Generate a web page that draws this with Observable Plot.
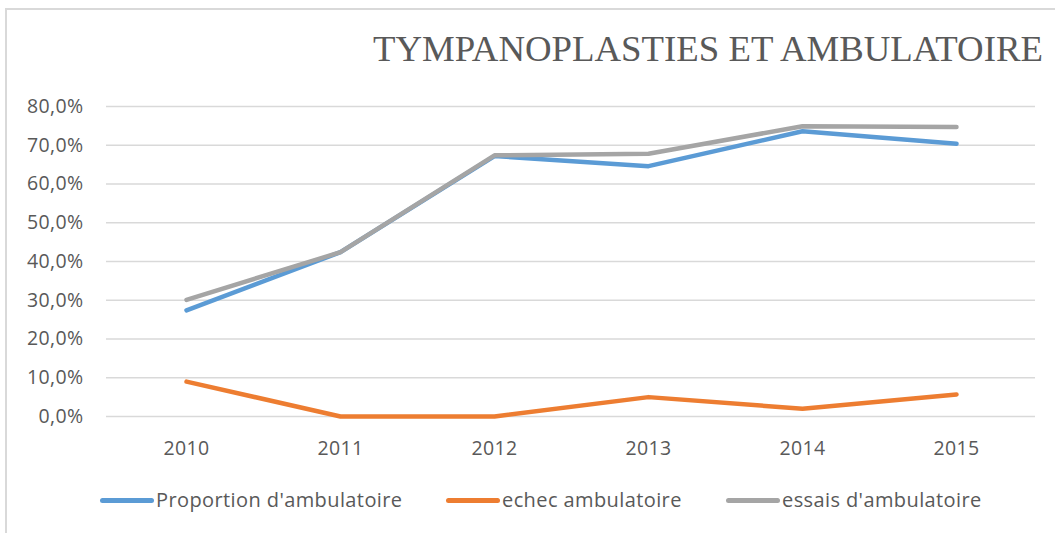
<!DOCTYPE html>
<html><head><meta charset="utf-8">
<script src="https://cdn.jsdelivr.net/npm/d3@7"></script>
<script src="https://cdn.jsdelivr.net/npm/@observablehq/plot@0.6"></script>
<style>
body{margin:0;background:#fff;}
#wrap{position:relative;width:1055px;height:533px;overflow:hidden;font-family:"Open Sans","Noto Sans",sans-serif;}
#frame{position:absolute;left:5px;top:8px;width:1100px;height:600px;border-left:2px solid #d9d9d9;border-top:2px solid #d9d9d9;}
#title{position:absolute;left:373px;top:31px;font-family:"Liberation Serif",serif;font-size:36.8px;color:#595959;white-space:nowrap;line-height:1;}
#chart{position:absolute;left:0;top:0;}
.leg{position:absolute;top:488px;display:flex;align-items:center;font-size:20px;letter-spacing:0.4px;color:#595959;white-space:nowrap;line-height:24px;}
.sw{display:inline-block;width:54px;height:5px;border-radius:3px;margin-right:2px;}
#chart svg text{letter-spacing:0.4px;}
</style></head>
<body><div id="wrap"><div id="frame"></div><div id="title">TYMPANOPLASTIES ET AMBULATOIRE</div><div id="chart"></div>
<div class="leg" style="left:100px"><span class="sw" style="background:#5b9bd5"></span>Proportion d'ambulatoire</div>
<div class="leg" style="left:446px"><span class="sw" style="background:#ed7d31"></span>echec ambulatoire</div>
<div class="leg" style="left:726px"><span class="sw" style="background:#a5a5a5"></span>essais d'ambulatoire</div>
</div>
<script>
const years = ["2010","2011","2012","2013","2014","2015"];
const proportion = [0.274, 0.424, 0.672, 0.646, 0.736, 0.704];
const echec = [0.090, 0.000, 0.000, 0.050, 0.020, 0.057];
const essais = [0.301, 0.424, 0.674, 0.678, 0.749, 0.747];
const yTicks = [0,0.1,0.2,0.3,0.4,0.5,0.6,0.7,0.8];
const seriesNames = ["Proportion d'ambulatoire","echec ambulatoire","essais d'ambulatoire"];
const colors = ["#5b9bd5","#ed7d31","#a5a5a5"];
const allSeries = [proportion, echec, essais];
const fmt = d => (d*100).toFixed(1).replace(".", ",") + "%";

const marks = [
  Plot.gridY(yTicks, {stroke:"#d9d9d9", strokeOpacity:1, strokeWidth:1.5}),
  Plot.axisY(yTicks, {tickSize:0, tickPadding:23, tickFormat:fmt, fontSize:19.5, fill:"#595959", label:null}),
  Plot.axisX({tickSize:0, tickPadding:25, fontSize:19.5, fill:"#595959", label:null})
];
allSeries.forEach((vals, i) => {
  const data = years.map((y, j) => ({year:y, value:vals[j]}));
  marks.push(Plot.line(data, {x:"year", y:"value", stroke:colors[i], strokeWidth:4.5, strokeLinecap:"round", strokeLinejoin:"round"}));
});

const chart = Plot.plot({
  width:1055, height:533,
  marginLeft:106, marginRight:20, marginTop:106, marginBottom:117,
  style:{fontFamily:"'Open Sans', 'Noto Sans', sans-serif", background:"transparent", color:"#595959"},
  x:{type:"point", domain:years, padding:0.5},
  y:{domain:[0,0.8]},
  marks
});
document.getElementById("chart").appendChild(chart);
</script>
</body></html>
